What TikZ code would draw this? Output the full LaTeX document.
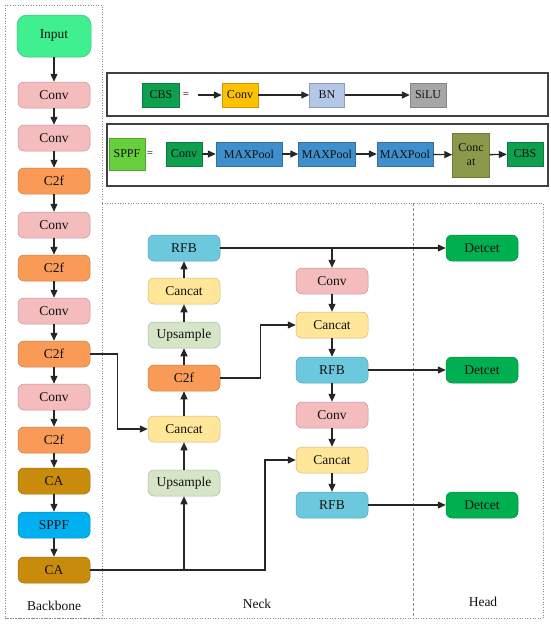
\documentclass[tikz,border=0pt]{standalone}
\usepackage{fontspec}
\setmainfont{Liberation Serif}
\usetikzlibrary{arrows.meta}
\definecolor{cInput}{HTML}{40F090}
\definecolor{cPink}{HTML}{F4BCBC}
\definecolor{cOrange}{HTML}{F99B57}
\definecolor{cCA}{HTML}{C98B0B}
\definecolor{cSPPF}{HTML}{00B0F0}
\definecolor{cRFB}{HTML}{6CC9DD}
\definecolor{cCancat}{HTML}{FFE699}
\definecolor{cUps}{HTML}{D6E5C8}
\definecolor{cDetect}{HTML}{00B050}
\definecolor{cCBS}{HTML}{0E9F4F}
\definecolor{cAmber}{HTML}{FFC000}
\definecolor{cBN}{HTML}{B4C7E7}
\definecolor{cSiLU}{HTML}{A6A6A6}
\definecolor{cSPPFl}{HTML}{66D03C}
\definecolor{cBlue}{HTML}{3E8FCB}
\definecolor{cOlive}{HTML}{8A9A4A}
\definecolor{cText}{HTML}{111111}
\begin{document}
\begin{tikzpicture}[x=1pt,y=-1pt,
  box/.style={rounded corners=6pt, minimum width=72pt, minimum height=26pt, inner sep=0pt,
    font=\fontsize{13.5}{15}\selectfont, text=cText, draw=#1!80!black, fill=#1, line width=0.5pt},
  sq/.style={rectangle, minimum width=36pt, minimum height=24pt, inner sep=0pt,
    font=\fontsize{12}{13}\selectfont, text=cText, draw=#1!80!black, fill=#1, line width=0.4pt},
  arr/.style={-{Triangle[length=8pt,width=7pt]}, line width=1.3pt, draw=black!85},
  frame/.style={draw=black!75, line width=1.6pt},
  dotline/.style={draw=black!45, dotted, line width=0.6pt},
  lbl/.style={font=\fontsize{13.5}{15}\selectfont, text=cText}
]
\useasboundingbox (0,0) rectangle (550,625);

% frames
\draw[dotline] (5,5) rectangle (102,618);
\draw[dotline] (102,203) -- (543,203) -- (543,618) -- (5,618);
\draw[draw=black!45, dashed, dash pattern=on 3pt off 2pt, line width=0.6pt] (413,203) -- (413,618);

% legend boxes
\draw[frame] (107,73) rectangle (548,116);
\draw[frame] (107,124) rectangle (548,186);

\node[sq=cCBS, minimum width=37pt] (cbs) at (161,95) {CBS};
\node[font=\fontsize{11}{12}\selectfont] (eq1) at (186,95) {=};
\coordinate (a0) at (198,95);
\node[sq=cAmber] (lconv) at (240,95) {Conv};
\node[sq=cBN, minimum width=35pt] (bn) at (327,95) {BN};
\node[sq=cSiLU] (silu) at (428,95) {SiLU};
\draw[arr] (a0) -- (lconv);
\draw[arr] (lconv) -- (bn);
\draw[arr] (bn) -- (silu);

\node[sq=cSPPFl, minimum height=32pt] (sppfl) at (127,154) {SPPF};
\node[font=\fontsize{11}{12}\selectfont] (eq2) at (150,154) {=};
\node[sq=cCBS] (sconv) at (184,154) {Conv};
\node[sq=cBlue, minimum width=66pt] (mp1) at (249,154) {MAXPool};
\node[sq=cBlue, minimum width=57pt] (mp2) at (327,154) {MAXPool};
\node[sq=cBlue, minimum width=56pt] (mp3) at (405,154) {MAXPool};
\node[sq=cOlive, minimum width=37pt, minimum height=44pt, align=center,
      font=\fontsize{12}{14}\selectfont] (cc) at (471,155) {Conc\\at};
\node[sq=cCBS] (scbs) at (525,154) {CBS};
\draw[arr] (sconv) -- (mp1);
\draw[arr] (mp1) -- (mp2);
\draw[arr] (mp2) -- (mp3);
\draw[arr] (mp3) -- (cc);
\draw[arr] (cc) -- (scbs);

% backbone
\node[box=cInput, minimum width=74pt, minimum height=42pt, rounded corners=10pt] (inp) at (54,36) {Input};
\node[box=cPink] (b1) at (54,95) {Conv};
\node[box=cPink] (b2) at (54,138) {Conv};
\node[box=cOrange] (b3) at (54,181) {C2f};
\node[box=cPink] (b4) at (54,225) {Conv};
\node[box=cOrange] (b5) at (54,268) {C2f};
\node[box=cPink] (b6) at (54,311) {Conv};
\node[box=cOrange] (b7) at (54,354) {C2f};
\node[box=cPink] (b8) at (54,397) {Conv};
\node[box=cOrange] (b9) at (54,440) {C2f};
\node[box=cCA] (b10) at (54,481) {CA};
\node[box=cSPPF] (b11) at (54,525) {SPPF};
\node[box=cCA] (b12) at (54,570) {CA};
\foreach \a/\b in {inp/b1,b1/b2,b2/b3,b3/b4,b4/b5,b5/b6,b6/b7,b7/b8,b8/b9,b9/b10,b10/b11,b11/b12}
  \draw[arr] (\a) -- (\b);

% neck left column
\node[box=cRFB] (n1) at (184,248) {RFB};
\node[box=cCancat] (n2) at (184,291) {Cancat};
\node[box=cUps] (n3) at (184,335) {Upsample};
\node[box=cOrange] (n4) at (184,378) {C2f};
\node[box=cCancat] (n5) at (184,429) {Cancat};
\node[box=cUps] (n6) at (184,483) {Upsample};
\foreach \a/\b in {n6/n5,n5/n4,n4/n3,n3/n2,n2/n1}
  \draw[arr] (\a) -- (\b);

% neck right column
\node[box=cPink] (m1) at (332,281) {Conv};
\node[box=cCancat] (m2) at (332,325) {Cancat};
\node[box=cRFB] (m3) at (332,370) {RFB};
\node[box=cPink] (m4) at (332,415) {Conv};
\node[box=cCancat] (m5) at (332,460) {Cancat};
\node[box=cRFB] (m6) at (332,505) {RFB};
\foreach \a/\b in {m1/m2,m2/m3,m3/m4,m4/m5,m5/m6}
  \draw[arr] (\a) -- (\b);

% head
\node[box=cDetect] (d1) at (482,248) {Detcet};
\node[box=cDetect] (d2) at (482,370) {Detcet};
\node[box=cDetect] (d3) at (482,505) {Detcet};

% cross connections
\draw[arr] (b7.east) -- ++(27,0) |- (n5.west);
\coordinate (t1) at (265,570);
\draw[arr] (b12.east) -- (t1) |- (m5.west);
\draw[arr] (n6 |- b12) -- (n6.south);
\draw[arr] (n4.east) -- ++(40,0) |- (m2.west);
\draw[arr] (n1.east) -- (d1.west);
\draw[arr] (m1 |- n1) -- (m1.north);
\draw[arr] (m3.east) -- (d2.west);
\draw[arr] (m6.east) -- (d3.west);

% labels
\node[lbl] (lb) at (54,606) {Backbone};
\node[lbl] (ln) at (257,604) {Neck};
\node[lbl] (lh) at (483,602) {Head};
\end{tikzpicture}
\end{document}
